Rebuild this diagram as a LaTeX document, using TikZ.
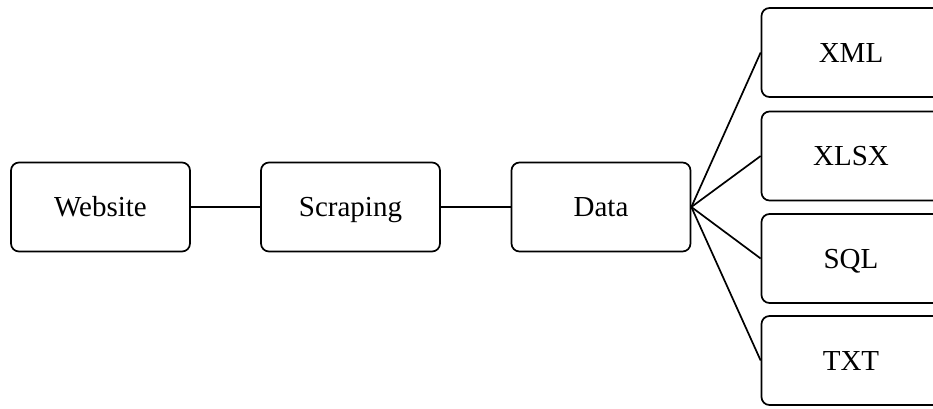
\documentclass[tikz,border=0pt]{standalone}
\usepackage{fontspec}
\setmainfont{Liberation Serif}
\begin{document}
\begin{tikzpicture}[x=1pt,y=-1pt,
  box/.style={draw,line width=1.7pt,rounded corners=8pt,minimum width=179pt,minimum height=89pt,inner sep=0pt,text height=19pt,text depth=0pt,font=\fontsize{29}{34}\selectfont},
  link/.style={line width=1.7pt}]
\useasboundingbox (0,0) rectangle (933,408);

% pipeline
\node[box] (web) at (100.5,207) {Website};
\node[box] (scr) at (350.5,207) {Scraping};
\node[box] (dat) at (601,207) {Data};

% output formats
\node[box] (xml) at (851,52.5) {XML};
\node[box] (xlsx) at (851,156) {XLSX};
\node[box] (sql) at (851,258.5) {SQL};
\node[box] (txt) at (851,360.5) {TXT};

\draw[link] (web) -- (scr);
\draw[link] (scr) -- (dat);
\foreach \f in {xml,xlsx,sql,txt}
  \draw[link] (dat.east) -- (\f.west);

\end{tikzpicture}
\end{document}
